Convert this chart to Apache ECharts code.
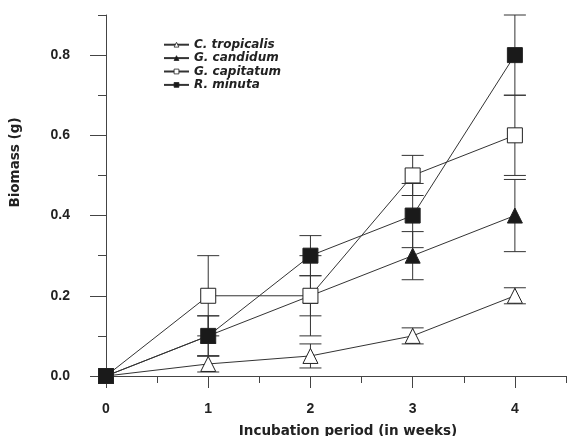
<!DOCTYPE html>
<html><head><meta charset="utf-8">
<script src="https://cdn.jsdelivr.net/npm/echarts@6/dist/echarts.min.js"></script>
<style>html,body{margin:0;padding:0;background:#fff}#c{width:567px;height:436px}</style>
</head><body><div id="c"></div>
<script>
// ---- data ----
const weeks = [0, 1, 2, 3, 4];
const seriesNames = ['C. tropicalis', 'G. candidum', 'G. capitatum', 'R. minuta'];
const tropicalis    = [0, 0.03, 0.05, 0.10, 0.20];
const tropicalisErr = [0, 0.02, 0.03, 0.02, 0.02];
const candidum      = [0, 0.10, 0.20, 0.30, 0.40];
const candidumErr   = [0, 0.05, 0.05, 0.06, 0.09];
const capitatum     = [0, 0.20, 0.20, 0.50, 0.60];
const capitatumErr  = [0, 0.10, 0.10, 0.05, 0.10];
const minuta        = [0, 0.10, 0.30, 0.40, 0.80];
const minutaErr     = [0, 0.05, 0.05, 0.08, 0.10];
const xTicks = [0, 1, 2, 3, 4];
const xMinorTicks = [0.5, 1.5, 2.5, 3.5, 4.5];
const yTicks = [0, 0.2, 0.4, 0.6, 0.8];
const yMinorTicks = [0.1, 0.3, 0.5, 0.7, 0.9];
const xTitle = 'Incubation period (in weeks)';
const yTitle = 'Biomass (g)';

// ---- build ----
const vals = [tropicalis, candidum, capitatum, minuta];
const errs = [tropicalisErr, candidumErr, capitatumErr, minutaErr];
const symbols = ['triangle', 'triangle', 'rect', 'rect'];
const fills = ['#ffffff', '#1a1a1a', '#ffffff', '#1a1a1a'];
const ink = '#222';

function errItem(params, api) {
  const x = api.value(0), lo = api.value(1), hi = api.value(2);
  const p1 = api.coord([x, hi]), p2 = api.coord([x, lo]);
  const w = 11;
  const style = { stroke: '#333', lineWidth: 1 };
  return { type: 'group', children: [
    { type: 'line', shape: { x1: p1[0], y1: p1[1], x2: p2[0], y2: p2[1] }, style },
    { type: 'line', shape: { x1: p1[0] - w, y1: p1[1], x2: p1[0] + w, y2: p1[1] }, style },
    { type: 'line', shape: { x1: p2[0] - w, y1: p2[1], x2: p2[0] + w, y2: p2[1] }, style }
  ]};
}

const series = [];
vals.forEach((v, i) => {
  const ed = [];
  weeks.forEach((w, j) => { if (errs[i][j] > 0) ed.push([w, v[j] - errs[i][j], v[j] + errs[i][j]]); });
  series.push({
    type: 'custom', name: seriesNames[i] + ' err', renderItem: errItem,
    data: ed, encode: { x: 0, y: [1, 2] }, z: 1, silent: true
  });
});
vals.forEach((v, i) => {
  series.push({
    type: 'line', name: seriesNames[i],
    data: weeks.map((w, j) => [w, v[j]]),
    symbol: symbols[i], symbolSize: 15,
    itemStyle: { color: fills[i], borderColor: ink, borderWidth: 1 },
    lineStyle: { color: '#333', width: 1 },
    z: 3 + i
  });
});

const labelFont = { fontFamily: 'Liberation Sans', fontWeight: 'bold', fontSize: 14, color: '#222' };
const titleFont = { fontFamily: 'DejaVu Sans', fontWeight: 'bold', fontSize: 13.5, color: '#222' };

const chart = echarts.init(document.getElementById('c'), null, { renderer: 'canvas' });
chart.setOption({
  animation: false,
  backgroundColor: '#fff',
  grid: { left: 106, right: 1, top: 15, bottom: 60, outerBoundsMode: 'none' },
  legend: {
    data: seriesNames, orient: 'vertical', left: 158, top: 33,
    itemWidth: 25, itemHeight: 6, itemGap: 0,
    itemStyle: { borderWidth: 0.8 },
    textStyle: { fontFamily: 'DejaVu Sans', fontStyle: 'italic', fontWeight: 'bold', fontSize: 12, lineHeight: 13.4, color: '#222' }
  },
  xAxis: [{
    type: 'value', min: 0, max: 4.5, position: 'bottom',
    axisLine: { onZero: false, lineStyle: { color: '#444', width: 1 } },
    axisTick: { customValues: xTicks, length: 12, lineStyle: { color: '#444' } },
    axisLabel: { customValues: xTicks, margin: 26, ...labelFont },
    splitLine: { show: false },
    name: xTitle, nameLocation: 'middle', nameGap: 48,
    nameTextStyle: { ...titleFont, padding: [0, 0, 0, 24] }
  }, {
    type: 'value', min: 0, max: 4.5, position: 'bottom',
    axisLine: { show: false, onZero: false },
    axisTick: { customValues: xMinorTicks, length: 7, lineStyle: { color: '#444' } },
    axisLabel: { show: false }, splitLine: { show: false }
  }],
  yAxis: [{
    type: 'value', min: 0, max: 0.9, position: 'left',
    axisLine: { show: true, onZero: false, lineStyle: { color: '#444', width: 1 } },
    axisTick: { show: true, customValues: yTicks, length: 16, lineStyle: { color: '#444' } },
    axisLabel: { customValues: yTicks, margin: 36, formatter: v => v.toFixed(1), ...labelFont },
    splitLine: { show: false },
    name: yTitle, nameLocation: 'middle', nameGap: 84,
    nameTextStyle: { ...titleFont, padding: [0, 0, 0, 66] }
  }, {
    type: 'value', min: 0, max: 0.9, position: 'left',
    axisLine: { show: false, onZero: false },
    axisTick: { show: true, customValues: yMinorTicks, length: 8, lineStyle: { color: '#444' } },
    axisLabel: { show: false }, splitLine: { show: false }
  }],
  series: series
});
</script></body></html>
